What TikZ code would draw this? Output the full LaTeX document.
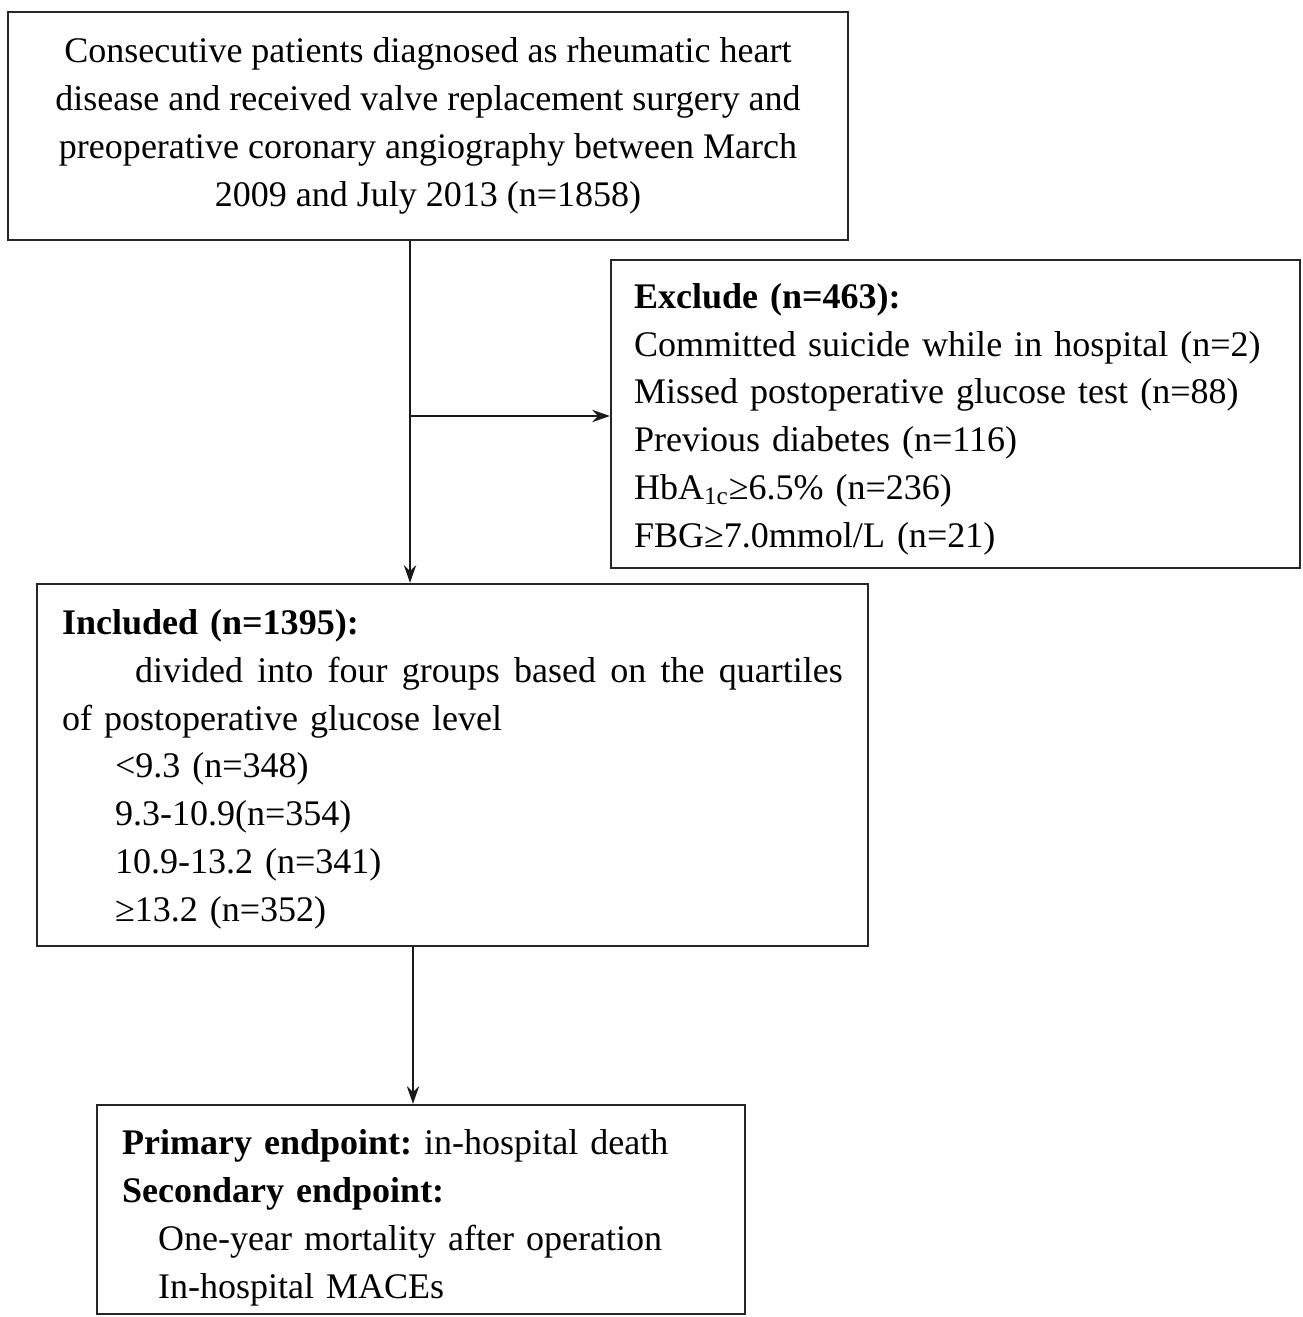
\documentclass[tikz,border=0pt]{standalone}
\usepackage{fontspec}
\setmainfont{Liberation Serif}
\usetikzlibrary{arrows.meta}
\frenchspacing
\newcommand{\firstup}[1]{\rule{0pt}{#1}}
\tikzset{
  box/.style={draw=black!85, line width=1.4pt, rectangle, inner ysep=0pt,
    font=\fontsize{20.5}{27.2}\selectfont\frenchspacing},
  arr/.style={draw=black!90, line width=1.3pt, -{Stealth[length=10pt,width=7pt]}},
}
\begin{document}
\begin{tikzpicture}[x=0.02cm,y=-0.02cm]
\useasboundingbox (0,0) rectangle (1302,1317);
\node[box, minimum width=16.8cm, minimum height=4.56cm, align=center] (top) at (428,126)
  {Consecutive patients diagnosed as rheumatic heart\\
   disease and received valve replacement surgery and\\
   preoperative coronary angiography between March\\
   2009 and July 2013 (n=1858)};
\node[box, minimum width=13.78cm, minimum height=6.16cm, inner xsep=0.46cm, text width=12.86cm, align=left] (exc) at (955.5,414)
  {\firstup{20pt}\textbf{Exclude (n=463):}\\
   Committed suicide while in hospital (n=2)\\
   Missed postoperative glucose test (n=88)\\
   Previous diabetes (n=116)\\
   HbA\textsubscript{1c}≥6.5\% (n=236)\\
   FBG≥7.0mmol/L (n=21)};
\node[box, minimum width=16.62cm, minimum height=7.24cm, inner xsep=0.5cm, text width=15.62cm, align=left] (inc) at (452.5,765)
  {\firstup{19pt}\textbf{Included (n=1395):}\\
   \makebox[15.62cm][l]{\hspace*{1.46cm}divided \hfill into \hfill four \hfill groups \hfill based \hfill on \hfill the \hfill quartiles}\\
   of postoperative glucose level\\
   \hspace*{1.06cm}<9.3 (n=348)\\
   \hspace*{1.06cm}9.3-10.9(n=354)\\
   \hspace*{1.06cm}10.9-13.2 (n=341)\\
   \hspace*{1.06cm}≥13.2 (n=352)};
\node[box, minimum width=12.96cm, minimum height=4.18cm, inner xsep=0.5cm, text width=11.96cm, align=left] (endp) at (421,1209.5)
  {\firstup{23.5pt}\textbf{Primary endpoint:} in-hospital death\\
   \textbf{Secondary endpoint:}\\
   \hspace*{0.72cm}One-year mortality after operation\\
   \hspace*{0.72cm}In-hospital MACEs};
\coordinate (j) at (410,416);
\coordinate (k) at (413,1000);
\draw[arr] (top.south -| j) -- (inc.north -| j);
\draw[arr] (j) -- (j -| exc.west);
\draw[arr] (inc.south -| k) -- (endp.north -| k);
\end{tikzpicture}
\end{document}
